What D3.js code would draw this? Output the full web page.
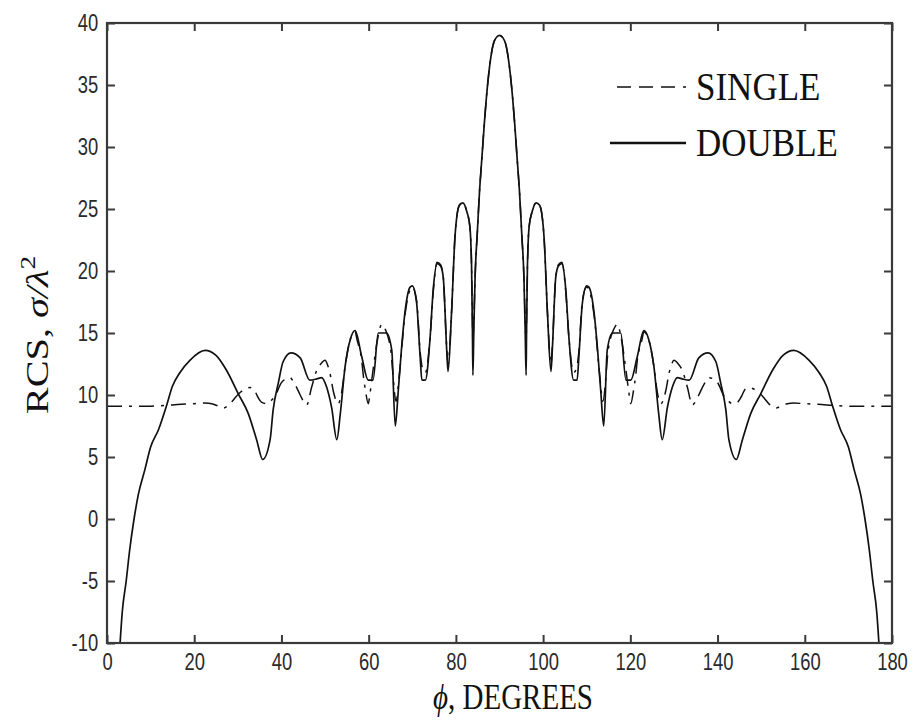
<!DOCTYPE html>
<html>
<head>
<meta charset="utf-8">
<script src="https://cdn.jsdelivr.net/npm/d3@7"></script>
<style>
  html, body { margin: 0; padding: 0; background: #fff; }
  svg { display: block; }
  .tick text { font-family: "Liberation Sans", Arial, sans-serif; }
</style>
</head>
<body>
<svg id="chart" width="914" height="723"></svg>
<script>
// ---------- data ----------
const xTicks = [0, 20, 40, 60, 80, 100, 120, 140, 160, 180];
const yTicks = [-10, -5, 0, 5, 10, 15, 20, 25, 30, 35, 40];
const seriesNames = ["SINGLE", "DOUBLE"];

// DOUBLE (solid)
const doublePhi = [3, 3.5, 4.4, 5.2, 6.2, 7.2, 8.7, 10, 11.8, 13.7, 15, 16.7, 19, 22.5, 25, 27.4, 30.1, 32.4, 34.3, 35.7,
  37.4, 38.1, 39.3, 40.4, 42.2, 44.3, 46.5, 48.1, 49.2, 50.3, 51.5, 52.7, 53.5, 54.6, 55.8, 56.9, 58.4, 59.9, 61, 62.2,
  63.3, 64.1, 65.3, 66.1, 66.8, 67.5, 68.3, 69.5, 70, 71, 71.8, 72.2, 73, 74.1, 74.8, 75.7, 76.5, 77.1, 77.9, 78.2,
  79, 79.8, 80.8, 81.6, 82.5, 83.2, 83.6, 83.8, 83.9, 84.1, 84.4, 84.9, 85.4, 86, 86.5, 87, 87.5, 88, 88.5, 89.2, 90,
  90.8, 91.5, 92, 92.5, 93, 93.5, 94, 94.6, 95.1, 95.6, 95.9, 96.1, 96.2, 96.4, 96.8, 97.5, 98.4, 99.2, 100.2, 101,
  101.8, 102.1, 102.9, 103.5, 104.3, 105.2, 105.9, 107, 107.8, 108.2, 109, 110, 110.5, 111.7, 112.5, 113.2, 113.9, 114.7, 115.9, 116.7,
  117.8, 119, 120.1, 121.6, 123.1, 124.2, 125.4, 126.5, 127.3, 128.5, 129.7, 130.8, 131.9, 133.5, 135.7, 137.8, 139.6, 140.7, 141.9, 142.6,
  144.3, 145.7, 147.6, 149.9, 152.6, 155, 157.5, 161, 163.3, 165, 166.3, 168.2, 170, 171.3, 172.8, 173.8, 174.8, 175.6, 176.5, 177];
const doubleRCS = [-10, -7.5, -5, -2.5, 0, 2, 4, 5.8, 7.2, 9.2, 10.7, 11.8, 12.8, 13.6, 13.2, 12.0, 10.1, 8.5, 6.4, 4.8,
  6.4, 8.8, 11, 12.7, 13.4, 13, 11.2, 11.3, 11.4, 10.7, 9, 6.4, 8.5, 12.3, 14.5, 15.2, 13.1, 11.2, 11.2, 15,
  15, 15, 13.6, 7.5, 10.4, 13.6, 16.6, 18.7, 18.8, 17.4, 13.1, 11.2, 11.2, 14.7, 18.5, 20.6, 20.4, 19.5, 13.6, 11.9,
  16.6, 22.8, 25.3, 25.5, 24.8, 23.6, 20.3, 15, 11.6, 15, 19.5, 23, 26.3, 29.3, 31.8, 34, 35.8, 37.2, 38.2, 38.8, 39,
  38.8, 38.2, 37.2, 35.8, 34, 31.8, 29.3, 26.3, 23, 19.5, 15, 11.6, 15, 20.3, 23.6, 24.8, 25.5, 25.3, 22.8, 16.6,
  11.9, 13.6, 19.5, 20.4, 20.6, 18.5, 14.7, 11.2, 11.2, 13.1, 17.4, 18.8, 18.7, 16.6, 13.6, 10.4, 7.5, 13.6, 15, 15,
  15, 11.2, 11.2, 13.1, 15.2, 14.5, 12.3, 8.5, 6.4, 9, 10.7, 11.4, 11.3, 11.2, 13, 13.4, 12.7, 11, 8.8, 6.4,
  4.8, 6.4, 8.5, 10.1, 12.0, 13.2, 13.6, 12.8, 11.8, 10.7, 9.2, 7.2, 5.8, 4, 2, 0, -2.5, -5, -7.5, -10];

// SINGLE (dashed)
const singlePhi = [0, 5, 10, 13, 17, 20, 22.5, 24, 25.5, 26.6, 28, 29.2, 30.2, 31.3, 32.8, 33.6, 34.5, 35.5, 36.6, 37.5,
  38.5, 40, 41, 42, 42.7, 43.5, 44.3, 45.8, 46.9, 48.1, 49, 50, 50.6, 51.1, 51.9, 53, 53.8, 54.6, 55.8, 56.9,
  57.3, 58.4, 58.8, 59.3, 59.9, 60.3, 61, 62, 63, 63.8, 65, 66.3, 67, 68.3, 69.5, 70, 71, 71.8, 72.3, 73,
  74.1, 74.8, 75.7, 76.5, 77.1, 77.9, 78.2, 79, 79.8, 80.8, 81.6, 82.5, 83.2, 83.6, 83.8, 83.9, 84.1, 84.4, 84.9, 85.4,
  86, 86.5, 87, 87.5, 88, 88.5, 89.2, 90,
  90.8, 91.5, 92, 92.5, 93, 93.5, 94, 94.6, 95.1, 95.6, 95.9, 96.1, 96.2, 96.4, 96.8, 97.5, 98.4, 99.2, 100.2, 101,
  101.8, 102.1, 102.9, 103.5, 104.3, 105.2, 105.9, 107, 107.7, 108.2, 109, 110, 110.5, 111.7, 113, 113.7, 115, 116.2, 117, 118,
  119, 119.7, 120.1, 120.7, 121.2, 121.6, 122.7, 123.1, 124.2, 125.4, 126.2, 127, 128.1, 128.9, 129.4, 130, 131, 131.9, 133.1, 134.2,
  135.7, 136.5, 137.3, 138, 139, 140, 141.5, 142.5, 143.4, 144.5, 145.5, 146.4, 147.2, 148.7, 149.8, 150.8, 152, 153.4, 154.5, 156,
  157.5, 160, 163, 167, 170, 175, 180];
const singleRCS = [9.1, 9.1, 9.1, 9.15, 9.25, 9.3, 9.35, 9.3, 9.1, 8.95, 9.2, 9.7, 10.1, 10.4, 10.6, 10.5, 9.9, 9.4, 9.3, 9.5,
  9.9, 11, 11.3, 11.4, 11.1, 10.6, 10, 9.2, 10.6, 12.0, 12.5, 12.8, 12.4, 11.8, 10.3, 9.3, 10.2, 12.3, 14.5, 15.1,
  14.5, 12.8, 11.5, 10.3, 9.3, 10.1, 12, 14.4, 15.7, 15.3, 13.8, 9.5, 11.5, 16.4, 18.5, 18.7, 17.6, 13.5, 12.2, 11.8,
  14.7, 18.3, 20.7, 20.5, 19.5, 13.8, 12.5, 16.6, 22.8, 25.3, 25.5, 24.8, 23.6, 20.3, 16, 14.2, 16, 19.5, 23, 26.3,
  29.3, 31.8, 34, 35.8, 37.2, 38.2, 38.8, 39,
  38.8, 38.2, 37.2, 35.8, 34, 31.8, 29.3, 26.3, 23, 19.5, 16, 14.2, 16, 20.3, 23.6, 24.8, 25.5, 25.3, 22.8, 16.6,
  12.5, 13.8, 19.5, 20.5, 20.7, 18.3, 14.7, 11.8, 12.2, 13.5, 17.6, 18.7, 18.5, 16.4, 11.5, 9.5, 13.8, 15.3, 15.7, 14.4,
  12, 10.1, 9.3, 10.3, 11.5, 12.8, 14.5, 15.1, 14.5, 12.3, 10.2, 9.3, 10.3, 11.8, 12.4, 12.8, 12.5, 12.0, 10.6, 9.2,
  10, 10.6, 11.1, 11.4, 11.3, 11, 9.9, 9.5, 9.3, 9.4, 9.9, 10.5, 10.6, 10.4, 10.1, 9.7, 9.2, 8.95, 9.1, 9.3,
  9.35, 9.3, 9.25, 9.15, 9.1, 9.1, 9.1];

// ---------- layout ----------
const mLeft = 107, mRight = 892, mTop = 23, mBottom = 643;
const svg = d3.select("#chart");
const x = d3.scaleLinear().domain([0, 180]).range([mLeft, mRight]);
const y = d3.scaleLinear().domain([-10, 40]).range([mBottom, mTop]);

const axisColor = "#3a3a3a";
const tickLen = 8;

svg.append("clipPath").attr("id", "clip")
  .append("rect").attr("x", mLeft).attr("y", mTop).attr("width", mRight - mLeft).attr("height", mBottom - mTop);

// series
const line = d3.line().x(d => x(d[0])).y(d => y(d[1])).curve(d3.curveMonotoneX);
const singleData = singlePhi.map((p, i) => [p, singleRCS[i]]);
const doubleData = doublePhi.map((p, i) => [p, doubleRCS[i]]);

const plot = svg.append("g").attr("clip-path", "url(#clip)");
plot.append("path").datum(singleData)
  .attr("d", line).attr("fill", "none").attr("stroke", "#111")
  .attr("stroke-width", 1.5).attr("stroke-dasharray", "15,7,3,7");
plot.append("path").datum(doubleData)
  .attr("d", line).attr("fill", "none").attr("stroke", "#111")
  .attr("stroke-width", 1.7).attr("stroke-linejoin", "round");

// axes
const fmt = d => String(d);
const xAxisB = d3.axisBottom(x).tickValues(xTicks).tickFormat(fmt).tickSizeInner(-tickLen).tickSizeOuter(0).tickPadding(11);
const xAxisT = d3.axisTop(x).tickValues(xTicks).tickSizeInner(-tickLen).tickSizeOuter(0).tickFormat("");
const yAxisL = d3.axisLeft(y).tickValues(yTicks).tickFormat(fmt).tickSizeInner(-tickLen).tickSizeOuter(0).tickPadding(9);
const yAxisR = d3.axisRight(y).tickValues(yTicks).tickSizeInner(-tickLen).tickSizeOuter(0).tickFormat("");

function styleAxis(g) {
  g.select(".domain").remove();
  g.selectAll(".tick line").attr("stroke", axisColor).attr("stroke-width", 2);
  g.selectAll(".tick text").attr("fill", "#2a2a2a").style("font-size", "23px");
}
svg.append("g").attr("transform", `translate(0,${mBottom})`).call(xAxisB).call(styleAxis)
  .selectAll(".tick text").attr("transform", "scale(0.8,1)");
svg.append("g").attr("transform", `translate(0,${mTop})`).call(xAxisT).call(styleAxis);
svg.append("g").attr("transform", `translate(${mLeft},0)`).call(yAxisL).call(styleAxis)
  .selectAll(".tick text").attr("x", -11).attr("transform", "scale(0.8,1)");
svg.append("g").attr("transform", `translate(${mRight},0)`).call(yAxisR).call(styleAxis);

svg.append("rect").attr("x", mLeft).attr("y", mTop).attr("width", mRight - mLeft).attr("height", mBottom - mTop)
  .attr("fill", "none").attr("stroke", axisColor).attr("stroke-width", 2.2);

// axis titles
const serif = "'Liberation Serif', 'Times New Roman', serif";
const xt = svg.append("text").attr("transform", "translate(513,709) scale(1,1.2)")
  .attr("text-anchor", "middle").attr("font-family", serif).attr("font-size", 29).attr("fill", "#111");
xt.append("tspan").attr("font-style", "italic").text("\u03D5");
xt.append("tspan").text(", DEGREES");

const yt = svg.append("text").attr("transform", "translate(48,335) rotate(-90) scale(1.3,1)")
  .attr("text-anchor", "middle").attr("font-family", serif).attr("font-size", 31).attr("fill", "#111");
yt.append("tspan").text("RCS, ");
yt.append("tspan").attr("font-style", "italic").text("\u03C3/\u03BB");
yt.append("tspan").attr("font-size", 21).attr("dy", -13).text("2");

// legend
const legendItems = [
  { name: seriesNames[0], dash: "14,8", x1: 617, yLine: 87, yText: 100, w: 1.5 },
  { name: seriesNames[1], dash: null, x1: 610, yLine: 143, yText: 156, w: 2.5 }
];
legendItems.forEach(d => {
  svg.append("line").attr("x1", d.x1).attr("x2", 686).attr("y1", d.yLine).attr("y2", d.yLine)
    .attr("stroke", "#111").attr("stroke-width", d.w).attr("stroke-dasharray", d.dash);
  svg.append("text").attr("transform", `translate(696,${d.yText}) scale(1,1.15)`).attr("font-family", serif)
    .attr("font-size", 35).attr("fill", "#111").text(d.name);
});
</script>
</body>
</html>
